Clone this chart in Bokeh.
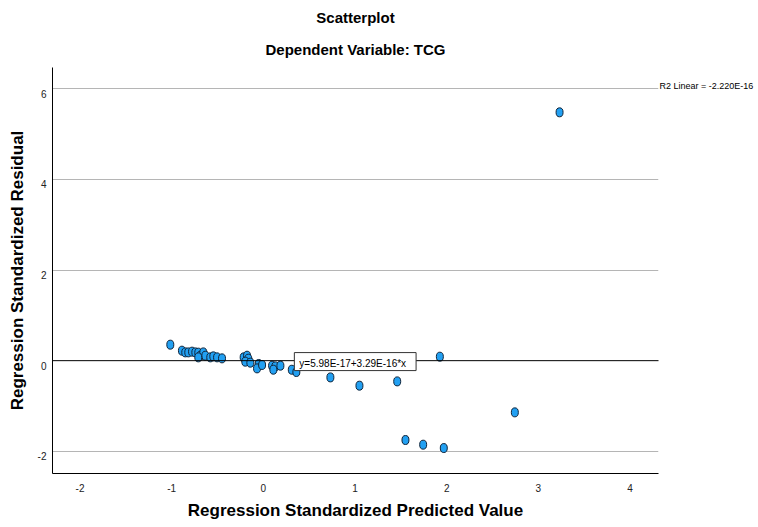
from bokeh.plotting import figure
from bokeh.models import (ColumnDataSource, FixedTicker, Range1d, Label, Title,
                          Slope, LinearAxis)
from bokeh.embed import file_html
from bokeh.resources import INLINE

# Standardized predicted values and standardized residuals per case
pred = [-1.015, -0.888, -0.852, -0.819, -0.778, -0.742, -0.710, -0.688, -0.655, -0.633,
        -0.710, -0.579, -0.546, -0.505, -0.451, -0.215, -0.178, -0.164, -0.197, -0.142,
        -0.051, -0.069, -0.014, 0.095, 0.131, 0.109, 0.186, 0.310, 0.360, 0.731,
        1.048, 1.460, 1.925, 1.550, 1.743, 1.968, 2.743, 3.231]
resid = [0.353, 0.221, 0.183, 0.183, 0.199, 0.183, 0.177, 0.110, 0.183, 0.110,
         0.073, 0.073, 0.095, 0.073, 0.051, 0.073, 0.110, 0.044, -0.022, -0.044,
         -0.073, -0.170, -0.095, -0.110, -0.126, -0.199, -0.110, -0.200, -0.250, -0.369,
         -0.552, -0.457, 0.088, -1.751, -1.854, -1.928, -1.141, 5.481]

x_ticks = [-2, -1, 0, 1, 2, 3, 4]
y_ticks = [-2, 0, 2, 4, 6]
grid_ticks = [-2, 2, 4, 6]

# Linear fit of residuals on predicted values
fit_intercept = 5.98e-17
fit_slope = 3.29e-16
fit_text = "y=5.98E-17+3.29E-16*x"
r2_value = 6.07          # height of the R2 note, beside the top grid line
r2_text = "R2 Linear = -2.220E-16"

FONT = "Liberation Sans"

y_start, y_end = -2.49, 6.47
label_shift = 0.11  # tick labels sit a little below their grid lines

p = figure(width=758, height=527, output_backend="svg", toolbar_location=None,
           x_range=Range1d(-2.30, 4.31), y_range=Range1d(y_start, y_end),
           min_border_left=52, min_border_right=100, min_border_top=67,
           min_border_bottom=54, background_fill_color="white",
           border_fill_color="white", outline_line_color=None)
p.extra_y_ranges = {"ylab": Range1d(y_start + label_shift, y_end + label_shift)}

# titles: the main title on top, the subtitle nearest the frame
p.title.text = "Scatterplot"
p.title.align = "center"
p.title.text_font = FONT
p.title.text_font_size = "15px"
p.title.text_font_style = "bold"
p.title.text_color = "black"
p.title.standoff = 8
p.add_layout(Title(text="Dependent Variable: TCG", align="center", text_font=FONT,
                   text_font_size="15px", text_font_style="bold",
                   text_color="black", standoff=19), "above")

# axes
xa = p.xaxis[0]
xa.ticker = FixedTicker(ticks=x_ticks)
xa.axis_label = "Regression Standardized Predicted Value"
ya = p.yaxis[0]
ya.y_range_name = "ylab"
ya.ticker = FixedTicker(ticks=y_ticks)
ya.axis_label = "Regression Standardized Residual"
for ax in (xa, ya):
    ax.axis_line_color = "black"
    ax.axis_line_width = 1
    ax.major_tick_line_color = None
    ax.minor_tick_line_color = None
    ax.major_tick_out = 0
    ax.major_tick_in = 0
    ax.minor_tick_out = 0
    ax.minor_tick_in = 0
    ax.major_label_text_font = FONT
    ax.major_label_text_font_size = "10px"
    ax.major_label_text_color = "#222222"
    ax.axis_label_text_font = FONT
    ax.axis_label_text_font_size = "17px"
    ax.axis_label_text_font_style = "bold"
    ax.axis_label_text_color = "black"
xa.major_label_overrides = {t: str(t) for t in x_ticks}
ya.major_label_overrides = {t: str(t) for t in y_ticks}
xa.major_label_standoff = 10
xa.axis_label_standoff = 6
ya.major_label_standoff = 6
ya.axis_label_standoff = 8

# right-hand axis carrying only the R2 note
ra = LinearAxis(ticker=FixedTicker(ticks=[r2_value]),
                major_label_overrides={r2_value: r2_text},
                axis_line_color=None, major_tick_line_color=None,
                minor_tick_line_color=None, major_tick_out=0, major_tick_in=0,
                minor_tick_out=0, minor_tick_in=0, major_label_standoff=1,
                major_label_text_font=FONT, major_label_text_font_size="9px",
                major_label_text_color="black")
p.add_layout(ra, "right")

p.xgrid.visible = False
p.ygrid.ticker = FixedTicker(ticks=grid_ticks)
p.ygrid.grid_line_color = "#b5b5b5"
p.ygrid.grid_line_width = 1

# fit line
p.add_layout(Slope(gradient=fit_slope, y_intercept=fit_intercept,
                   line_color="black", line_width=1))

# points
src = ColumnDataSource(dict(x=pred, y=resid))
p.ellipse(x="x", y="y", width=7, height=9, width_units="screen",
          height_units="screen", source=src, fill_color="#22a0f2",
          line_color="#10243a", line_width=1)

# fit equation box
p.add_layout(Label(x=0.338, y=-0.02, text=fit_text, text_font=FONT,
                   text_font_size="10px", text_color="black",
                   text_align="left", text_baseline="middle",
                   background_fill_color="white", border_line_color="#333333",
                   border_line_width=1, padding=(5, 10, 5, 2)))

open("out.html", "w").write(file_html(p, INLINE))
